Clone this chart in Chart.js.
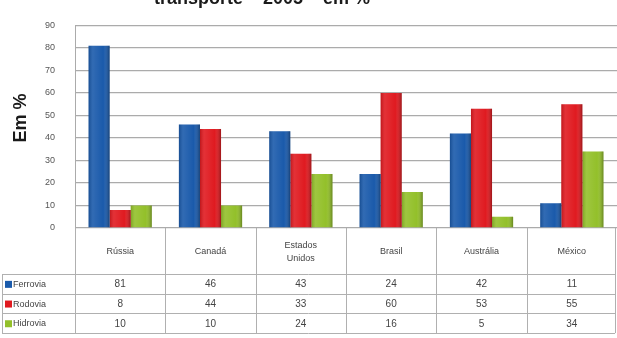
<!DOCTYPE html>
<html>
<head>
<meta charset="utf-8">
<script src="https://cdn.jsdelivr.net/npm/chart.js@4/dist/chart.umd.min.js"></script>
<style>
  html, body { margin: 0; padding: 0; background: #fff; }
  canvas { display: block; }
</style>
</head>
<body>
<canvas id="chart" width="617" height="338"></canvas>
<script>
// Data
const categories = ['Rússia', 'Canadá', ['Estados', 'Unidos'], 'Brasil', 'Austrália', 'México'];
const seriesNames = ['Ferrovia', 'Rodovia', 'Hidrovia'];
const ferrovia = [81, 46, 43, 24, 42, 11];
const rodovia = [8, 44, 33, 60, 53, 55];
const hidrovia = [10, 10, 24, 16, 5, 34];
const yMax = 90;
const yStep = 10;
const titleText = 'transporte – 2005 – em %';
const yTitle = 'Em %';

const colors = ['#1a5aab', '#e01a20', '#93c02a'];
const font = '"Liberation Sans", Arial, sans-serif';

// bar shading: a bit lighter on the left, darker edge on the right
const barShade = {
    id: 'barShade',
    afterDatasetDraw(chart, args) {
        const ctx = chart.ctx;
        args.meta.data.forEach(bar => {
            const left = bar.x - bar.width / 2;
            const g = ctx.createLinearGradient(left, 0, left + bar.width, 0);
            g.addColorStop(0, 'rgba(0,0,0,0.15)');
            g.addColorStop(0.2, 'rgba(255,255,255,0.1)');
            g.addColorStop(0.7, 'rgba(255,255,255,0)');
            g.addColorStop(1, 'rgba(0,0,0,0.3)');
            ctx.save();
            ctx.fillStyle = g;
            ctx.fillRect(left, bar.y, bar.width, bar.base - bar.y);
            ctx.restore();
        });
    }
};

// title (cut at the top), y title and data table under the plot
const extras = {
    id: 'extras',
    afterDraw(chart) {
        const ctx = chart.ctx;
        const area = chart.chartArea;
        const xs = chart.scales.x;
        ctx.save();

        ctx.fillStyle = '#1a1a1a';
        ctx.font = 'bold 18px ' + font;
        ctx.textAlign = 'center';
        ctx.textBaseline = 'alphabetic';
        ctx.fillText(titleText, 262, 4);

        ctx.translate(21, 118);
        ctx.rotate(-Math.PI / 2);
        ctx.font = 'bold 18px ' + font;
        ctx.textBaseline = 'middle';
        ctx.fillText(yTitle, 0, 0);
        ctx.restore();

        // column edges
        const edges = [area.left];
        for (let i = 1; i < categories.length; i++) {
            edges.push((xs.getPixelForValue(i - 1) + xs.getPixelForValue(i)) / 2);
        }
        edges.push(area.right - 2);

        const headTop = area.bottom;
        const rowTop = 274;
        const rowH = 19.7;
        const tableBottom = rowTop + rowH * seriesNames.length;

        ctx.save();
        ctx.strokeStyle = '#b0b0b0';
        ctx.lineWidth = 1;
        ctx.beginPath();
        edges.forEach(x => {
            ctx.moveTo(Math.round(x) + 0.5, headTop);
            ctx.lineTo(Math.round(x) + 0.5, tableBottom);
        });
        ctx.moveTo(2.5, rowTop);
        ctx.lineTo(2.5, tableBottom);
        for (let r = 0; r <= seriesNames.length; r++) {
            const y = Math.round(rowTop + r * rowH) + 0.5;
            ctx.moveTo(2, y);
            ctx.lineTo(area.right - 2, y);
        }
        ctx.stroke();

        // category header
        ctx.fillStyle = '#444';
        ctx.font = '9px ' + font;
        ctx.textAlign = 'center';
        ctx.textBaseline = 'middle';
        categories.forEach((c, i) => {
            const x = xs.getPixelForValue(i);
            const lines = Array.isArray(c) ? c : [c];
            lines.forEach((l, k) => {
                ctx.fillText(l, x, 252 + (k - (lines.length - 1) / 2) * 13);
            });
        });

        // rows
        chart.data.datasets.forEach((ds, r) => {
            const yMid = rowTop + r * rowH + rowH / 2 + 0.5;
            ctx.fillStyle = colors[r];
            ctx.fillRect(5, yMid - 3.5, 7, 7);
            ctx.fillStyle = '#444';
            ctx.textAlign = 'left';
            ctx.font = '9px ' + font;
            ctx.fillText(ds.label, 13, yMid);
            ctx.textAlign = 'center';
            ctx.font = '10px ' + font;
            ds.data.forEach((v, i) => ctx.fillText(String(v), xs.getPixelForValue(i), yMid));
        });
        ctx.restore();
    }
};

new Chart(document.getElementById('chart'), {
    type: 'bar',
    data: {
        labels: categories,
        datasets: [ferrovia, rodovia, hidrovia].map((d, i) => ({
            label: seriesNames[i],
            data: d,
            backgroundColor: colors[i],
            borderWidth: 0,
            categoryPercentage: 0.7,
            barPercentage: 1.0
        }))
    },
    options: {
        responsive: false,
        animation: false,
        devicePixelRatio: 1,
        layout: { padding: { top: 15, right: 0, bottom: 110, left: 0 } },
        plugins: { legend: { display: false }, tooltip: { enabled: false }, title: { display: false } },
        scales: {
            x: { display: false },
            y: {
                min: 0,
                max: yMax,
                afterFit(scale) { scale.width = 75; },
                ticks: { stepSize: yStep, padding: 20, color: '#555', font: { size: 9, family: font } },
                grid: { color: '#ababab', lineWidth: 1.3, drawTicks: false },
                border: { color: '#ababab' }
            }
        }
    },
    plugins: [barShade, extras]
});
</script>
</body>
</html>
